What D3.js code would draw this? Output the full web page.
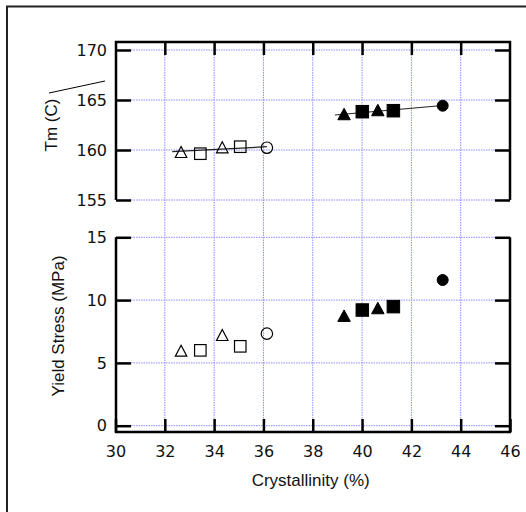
<!DOCTYPE html>
<html><head><meta charset="utf-8">
<script src="https://cdn.jsdelivr.net/npm/d3@7"></script>
<style>
html,body{margin:0;padding:0;background:#fff;}
svg{display:block;}
text{font-family:"Liberation Sans",Arial,sans-serif;fill:#111;}
</style></head>
<body>
<svg id="c" width="526" height="512"></svg>
<script>
// ---- data ----
const xTicks = [30,32,34,36,38,40,42,44,46];
const tmTicks = [155,160,165,170];
const ysTicks = [0,5,10,15];

const openTriX = [32.66, 34.33];
const openTriTm = [159.8, 160.27];
const openTriYS = [5.97, 7.22];
const openSqX = [33.44, 35.06];
const openSqTm = [159.63, 160.33];
const openSqYS = [6.0, 6.32];
const openCirX = [36.14];
const openCirTm = [160.23];
const openCirYS = [7.33];

const fillTriX = [39.27, 40.64];
const fillTriTm = [163.6, 164.0];
const fillTriYS = [8.76, 9.37];
const fillSqX = [40.01, 41.27];
const fillSqTm = [163.83, 163.93];
const fillSqYS = [9.21, 9.48];
const fillCirX = [43.27];
const fillCirTm = [164.43];
const fillCirYS = [11.6];

const fitOpenX = [32.3, 36.14];
const fitOpenTm = [159.83, 160.33];
const fitFillX = [38.9, 43.27];
const fitFillTm = [163.5, 164.45];

const xLabel = "Crystallinity (%)";
const tmLabel = "Tm (C)";
const ysLabel = "Yield Stress (MPa)";

// ---- layout ----
const svg = d3.select("#c");
const L = 116, R = 510;
const topT = 42, topB = 200, botT = 237.3, botB = 432;
const x = d3.scaleLinear().domain([30,46]).range([115.5,510]);
const yTm = d3.scaleLinear().domain([155,170]).range([200,50]);
const yYS = d3.scaleLinear().domain([0,15]).range([425.7,237.3]);
const gridColor = "#8c8cff";

// outer frame (only left/top visible)
svg.append("path").attr("d","M7,520 L7,6.5 L530,6.5").attr("fill","none").attr("stroke","#222").attr("stroke-width",2);

// grid
const g = svg.append("g");
g.selectAll("line.vg").data(xTicks.slice(1,-1)).join("line")
  .attr("x1",d=>x(d)).attr("x2",d=>x(d)).attr("y1",topT).attr("y2",botB)
  .attr("stroke",gridColor).attr("stroke-width",1).attr("stroke-dasharray","1.5,1");
g.selectAll("line.ht").data(tmTicks).join("line")
  .attr("x1",L).attr("x2",R).attr("y1",d=>yTm(d)).attr("y2",d=>yTm(d))
  .attr("stroke",gridColor).attr("stroke-width",1).attr("stroke-dasharray","1.5,1");
svg.append("g").selectAll("line").data(ysTicks).join("line")
  .attr("x1",L).attr("x2",R).attr("y1",d=>yYS(d)).attr("y2",d=>yYS(d))
  .attr("stroke",gridColor).attr("stroke-width",1).attr("stroke-dasharray","1.5,1");

// axes
function styleAxis(sel){
  sel.selectAll(".tick line").attr("stroke","#000").attr("stroke-width",2.5);
  sel.selectAll("text").style("font-size","16px").style("font-family","'DejaVu Sans',sans-serif").attr("fill","#111");
  sel.select(".domain").remove();
}
svg.append("g").attr("transform",`translate(${L},0)`)
  .call(d3.axisLeft(yTm).tickValues(tmTicks).tickSizeInner(-15).tickSizeOuter(0).tickPadding(9)).call(styleAxis);
svg.append("g").attr("transform",`translate(${R},0)`)
  .call(d3.axisRight(yTm).tickValues(tmTicks).tickSizeInner(-15).tickSizeOuter(0).tickFormat("")).call(styleAxis);
svg.append("g").attr("transform",`translate(${L},0)`)
  .call(d3.axisLeft(yYS).tickValues(ysTicks).tickSizeInner(-15).tickSizeOuter(0).tickPadding(9)).call(styleAxis);
svg.append("g").attr("transform",`translate(${R},0)`)
  .call(d3.axisRight(yYS).tickValues(ysTicks).tickSizeInner(-15).tickSizeOuter(0).tickFormat("")).call(styleAxis);
svg.append("g").attr("transform",`translate(0,${topT})`)
  .call(d3.axisTop(x).tickValues(xTicks.slice(1,-1)).tickSizeInner(-13).tickSizeOuter(0).tickFormat("")).call(styleAxis);
svg.append("g").attr("transform",`translate(0,${botB})`)
  .call(d3.axisBottom(x).tickValues(xTicks).tickSizeInner(-13).tickSizeOuter(0).tickPadding(14)).call(styleAxis);
// frame lines
const fr = svg.append("g").attr("stroke","#000").attr("stroke-width",2.5).attr("fill","none");
fr.append("path").attr("d",`M${L},${topB} L${L},${topT} L${R},${topT} L${R},${topB}`);
fr.append("path").attr("d",`M${L},${botT} L${L},${botB} L${R},${botB} L${R},${botT}`);

// axis titles
svg.append("text").attr("x",310.7).attr("y",486).attr("text-anchor","middle").style("font-size","17px").text(xLabel);
svg.append("text").attr("transform","translate(57,125) rotate(-90)").attr("text-anchor","middle").style("font-size","17px").text(tmLabel);
svg.append("text").attr("transform","translate(64,326) rotate(-90)").attr("text-anchor","middle").style("font-size","17px").text(ysLabel);
// stray line near Tm label
svg.append("line").attr("x1",49).attr("y1",93).attr("x2",105).attr("y2",81).attr("stroke","#000").attr("stroke-width",1);

// fit lines
const line = d3.line().x(d=>x(d[0])).y(d=>yTm(d[1]));
svg.append("path").attr("d",line(d3.zip(fitOpenX,fitOpenTm))).attr("stroke","#222").attr("stroke-width",1.2).attr("fill","none");
svg.append("path").attr("d",line(d3.zip(fitFillX,fitFillTm))).attr("stroke","#222").attr("stroke-width",1.2).attr("fill","none");

// markers
function tri(cx,cy,w,h){return `M${cx-w/2},${cy+h/2} L${cx+w/2},${cy+h/2} L${cx},${cy-h/2} Z`;}
function drawSet(xs, ys, ysc, shape, filled){
  const gg = svg.append("g");
  const data = d3.zip(xs, ys);
  const stroke = "#000", fill = filled ? "#000" : "none", sw = filled ? 1 : 1.2;
  if(shape==="tri"){
    gg.selectAll("path").data(data).join("path")
      .attr("d",d=>tri(x(d[0]),ysc(d[1]),filled?12.5:11.5,filled?11.5:11))
      .attr("fill",fill).attr("stroke",stroke).attr("stroke-width",sw);
  } else if(shape==="sq"){
    const s = filled?12.5:11.5;
    gg.selectAll("rect").data(data).join("rect")
      .attr("x",d=>x(d[0])-s/2).attr("y",d=>ysc(d[1])-s/2).attr("width",s).attr("height",s)
      .attr("fill",fill).attr("stroke",stroke).attr("stroke-width",sw);
  } else {
    gg.selectAll("circle").data(data).join("circle")
      .attr("cx",d=>x(d[0])).attr("cy",d=>ysc(d[1])).attr("r",filled?5.5:5.7)
      .attr("fill",fill).attr("stroke",stroke).attr("stroke-width",sw);
  }
}
drawSet(openTriX, openTriTm, yTm, "tri", false);
drawSet(openSqX, openSqTm, yTm, "sq", false);
drawSet(openCirX, openCirTm, yTm, "cir", false);
drawSet(fillTriX, fillTriTm, yTm, "tri", true);
drawSet(fillSqX, fillSqTm, yTm, "sq", true);
drawSet(fillCirX, fillCirTm, yTm, "cir", true);
drawSet(openTriX, openTriYS, yYS, "tri", false);
drawSet(openSqX, openSqYS, yYS, "sq", false);
drawSet(openCirX, openCirYS, yYS, "cir", false);
drawSet(fillTriX, fillTriYS, yYS, "tri", true);
drawSet(fillSqX, fillSqYS, yYS, "sq", true);
drawSet(fillCirX, fillCirYS, yYS, "cir", true);
</script>
</body></html>
